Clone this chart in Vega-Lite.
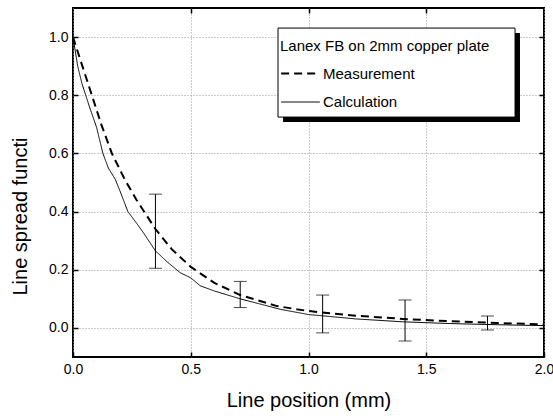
{
  "$schema": "https://vega.github.io/schema/vega-lite/v6.json",
  "width": 471,
  "height": 349,
  "autosize": {"type": "none"},
  "padding": {"left": 73, "top": 8, "right": 9, "bottom": 59},
  "background": "white",
  "config": {
    "view": {"stroke": "black", "strokeWidth": 2},
    "font": "Liberation Sans",
    "axis": {
      "labelFont": "Liberation Sans",
      "titleFont": "Liberation Sans",
      "labelColor": "black",
      "titleColor": "black",
      "labelFontSize": 14,
      "titleFontSize": 20,
      "titleFontWeight": "normal",
      "domain": false,
      "tickColor": "black",
      "tickSize": -5,
      "tickWidth": 1.5,
      "gridColor": "#999",
      "gridDash": [1, 2],
      "gridWidth": 1
    },
    "legend": {
      "titleFont": "Liberation Sans",
      "labelFont": "Liberation Sans",
      "titleFontSize": 15,
      "labelFontSize": 15,
      "titleFontWeight": "normal",
      "titleColor": "black",
      "labelColor": "black",
      "titleLimit": 400,
      "labelLimit": 300
    }
  },
  "datasets": {
    "curves": [
      {"pos": 0.0, "lsf": 1.0, "series": "Measurement"},
      {"pos": 0.04, "lsf": 0.9, "series": "Measurement"},
      {"pos": 0.08, "lsf": 0.8, "series": "Measurement"},
      {"pos": 0.12, "lsf": 0.7, "series": "Measurement"},
      {"pos": 0.165, "lsf": 0.6, "series": "Measurement"},
      {"pos": 0.22, "lsf": 0.51, "series": "Measurement"},
      {"pos": 0.27, "lsf": 0.44, "series": "Measurement"},
      {"pos": 0.35, "lsf": 0.34, "series": "Measurement"},
      {"pos": 0.42, "lsf": 0.27, "series": "Measurement"},
      {"pos": 0.5, "lsf": 0.21, "series": "Measurement"},
      {"pos": 0.6, "lsf": 0.155, "series": "Measurement"},
      {"pos": 0.71, "lsf": 0.113, "series": "Measurement"},
      {"pos": 0.866, "lsf": 0.075, "series": "Measurement"},
      {"pos": 1.0, "lsf": 0.058, "series": "Measurement"},
      {"pos": 1.2, "lsf": 0.042, "series": "Measurement"},
      {"pos": 1.4, "lsf": 0.031, "series": "Measurement"},
      {"pos": 1.6, "lsf": 0.023, "series": "Measurement"},
      {"pos": 1.8, "lsf": 0.017, "series": "Measurement"},
      {"pos": 2.0, "lsf": 0.012, "series": "Measurement"},
      {"pos": 0.0, "lsf": 1.0, "series": "Calculation"},
      {"pos": 0.02, "lsf": 0.9, "series": "Calculation"},
      {"pos": 0.038, "lsf": 0.84, "series": "Calculation"},
      {"pos": 0.07, "lsf": 0.76, "series": "Calculation"},
      {"pos": 0.1, "lsf": 0.69, "series": "Calculation"},
      {"pos": 0.127, "lsf": 0.6, "series": "Calculation"},
      {"pos": 0.15, "lsf": 0.55, "series": "Calculation"},
      {"pos": 0.18, "lsf": 0.51, "series": "Calculation"},
      {"pos": 0.2, "lsf": 0.47, "series": "Calculation"},
      {"pos": 0.233, "lsf": 0.4, "series": "Calculation"},
      {"pos": 0.27, "lsf": 0.36, "series": "Calculation"},
      {"pos": 0.3, "lsf": 0.326, "series": "Calculation"},
      {"pos": 0.35, "lsf": 0.265, "series": "Calculation"},
      {"pos": 0.4, "lsf": 0.227, "series": "Calculation"},
      {"pos": 0.455, "lsf": 0.19, "series": "Calculation"},
      {"pos": 0.5, "lsf": 0.172, "series": "Calculation"},
      {"pos": 0.54, "lsf": 0.145, "series": "Calculation"},
      {"pos": 0.6, "lsf": 0.127, "series": "Calculation"},
      {"pos": 0.71, "lsf": 0.1, "series": "Calculation"},
      {"pos": 0.88, "lsf": 0.064, "series": "Calculation"},
      {"pos": 1.0, "lsf": 0.046, "series": "Calculation"},
      {"pos": 1.2, "lsf": 0.031, "series": "Calculation"},
      {"pos": 1.4, "lsf": 0.021, "series": "Calculation"},
      {"pos": 1.6, "lsf": 0.015, "series": "Calculation"},
      {"pos": 1.8, "lsf": 0.011, "series": "Calculation"},
      {"pos": 2.0, "lsf": 0.008, "series": "Calculation"}
    ],
    "errs": [
      {"pos": 0.35, "lo": 0.205, "hi": 0.46},
      {"pos": 0.71, "lo": 0.07, "hi": 0.16},
      {"pos": 1.06, "lo": -0.017, "hi": 0.113},
      {"pos": 1.41, "lo": -0.045, "hi": 0.096},
      {"pos": 1.76, "lo": -0.007, "hi": 0.041}
    ],
    "legendbox": [
      {"part": "shadow", "x1": 0.892, "x2": 1.898, "y1": 1.014, "y2": 0.708},
      {"part": "box", "x1": 0.8705, "x2": 1.877, "y1": 1.031, "y2": 0.725}
    ]
  },
  "resolve": {"axis": {"x": "independent", "y": "independent"}},
  "layer": [
    {
      "data": {"name": "curves"},
      "mark": {"type": "point", "opacity": 0},
      "encoding": {
        "x": {"field": "pos", "type": "quantitative", "scale": {"domain": [0, 2], "nice": false, "zero": false},
              "axis": {"orient": "top", "values": [0.5, 1.0, 1.5], "labels": false, "title": null, "grid": false}},
        "y": {"field": "lsf", "type": "quantitative", "scale": {"domain": [-0.1, 1.1], "nice": false, "zero": false},
              "axis": {"orient": "right", "values": [0, 0.2, 0.4, 0.6, 0.8, 1.0], "labels": false, "title": null, "grid": false}}
      }
    },
    {
      "data": {"name": "legendbox"},
      "transform": [{"filter": "datum.part === 'shadow'"}],
      "mark": {"type": "rect", "color": "black"},
      "encoding": {
        "x": {"field": "x1", "type": "quantitative", "axis": null},
        "x2": {"field": "x2"},
        "y": {"field": "y1", "type": "quantitative", "axis": null},
        "y2": {"field": "y2"}
      }
    },
    {
      "data": {"name": "legendbox"},
      "transform": [{"filter": "datum.part === 'box'"}],
      "mark": {"type": "rect", "fill": "white", "stroke": "black", "strokeWidth": 1},
      "encoding": {
        "x": {"field": "x1", "type": "quantitative", "axis": null},
        "x2": {"field": "x2"},
        "y": {"field": "y1", "type": "quantitative", "axis": null},
        "y2": {"field": "y2"}
      }
    },
    {
      "data": {"name": "curves"},
      "mark": {"type": "line", "color": "black", "clip": true},
      "encoding": {
        "x": {"field": "pos", "type": "quantitative",
              "axis": {"orient": "bottom", "values": [0, 0.5, 1.0, 1.5, 2.0], "format": ".1f", "title": "Line position (mm)", "labelPadding": 10, "titlePadding": 14, "grid": true, "labelFlush": false}},
        "y": {"field": "lsf", "type": "quantitative",
              "axis": {"orient": "left", "values": [0, 0.2, 0.4, 0.6, 0.8, 1.0], "format": ".1f", "title": "Line spread functi", "labelPadding": 10, "grid": true, "titleAngle": -90, "titleAlign": "left", "titleBaseline": "alphabetic", "titleX": -47, "titleY": 287}},
        "detail": {"field": "series"},
        "strokeDash": {"field": "series", "type": "nominal",
                       "scale": {"domain": ["Measurement", "Calculation"], "range": [[8, 5], [1, 0]]},
                       "legend": {"title": "Lanex FB on 2mm copper plate", "orient": "none", "legendX": 207, "legendY": 31, "symbolType": "stroke", "symbolSize": 1500, "symbolStrokeColor": "black", "labelOffset": 2, "titlePadding": -1, "rowPadding": -17, "padding": 0}},
        "strokeWidth": {"field": "series", "type": "nominal",
                        "scale": {"domain": ["Measurement", "Calculation"], "range": [2, 1]},
                        "legend": {"title": "Lanex FB on 2mm copper plate", "orient": "none", "legendX": 207, "legendY": 31, "symbolType": "stroke", "symbolSize": 1500, "symbolStrokeColor": "black", "labelOffset": 2, "titlePadding": -1, "rowPadding": -17, "padding": 0}}
      }
    },
    {
      "data": {"name": "errs"},
      "mark": {"type": "errorbar", "ticks": {"size": 13, "color": "black", "strokeWidth": 1}, "rule": {"color": "black", "strokeWidth": 1}},
      "encoding": {
        "x": {"field": "pos", "type": "quantitative", "axis": null},
        "y": {"field": "lo", "type": "quantitative", "axis": null},
        "y2": {"field": "hi"}
      }
    }
  ]
}
